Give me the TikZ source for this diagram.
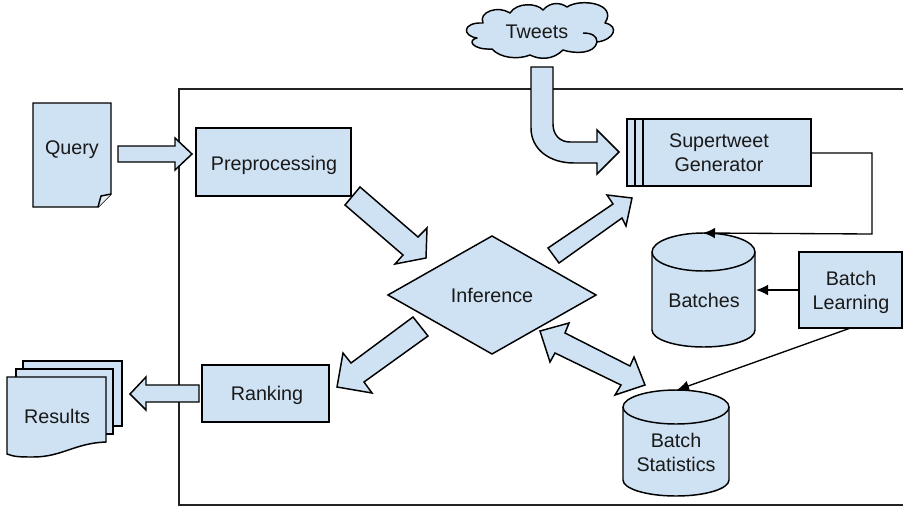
\documentclass[tikz,border=0pt]{standalone}
\usepackage{fontspec}
\setmainfont{Liberation Sans}
\usetikzlibrary{arrows.meta}
\definecolor{fillblue}{HTML}{CFE2F3}
\definecolor{framegrey}{HTML}{222222}
\newcommand{\cylshape}[6]{% xl xr ytop yc ybase ybottom
  \pgfmathsetmacro{\cylmid}{(#1+#2)/2}\pgfmathsetmacro{\cylrx}{(#2-#1)/2}
  \pgfmathsetmacro{\cylra}{0.552*\cylrx}\pgfmathsetmacro{\cylhb}{0.552*(#6-#5)}\pgfmathsetmacro{\cylht}{0.552*(#4-#3)}
  \draw[shapeline] (#1,#4) -- (#1,#5) .. controls (#1,#5+\cylhb) and (\cylmid-\cylra,#6) .. (\cylmid,#6)
     .. controls (\cylmid+\cylra,#6) and (#2,#5+\cylhb) .. (#2,#5) -- (#2,#4)
     .. controls (#2,#4-\cylht) and (\cylmid+\cylra,#3) .. (\cylmid,#3)
     .. controls (\cylmid-\cylra,#3) and (#1,#4-\cylht) .. (#1,#4) -- cycle;
  \draw[lineonly] (#1,#4) .. controls (#1,#4+\cylht) and (\cylmid-\cylra,#4+#4-#3) .. (\cylmid,#4+#4-#3)
     .. controls (\cylmid+\cylra,#4+#4-#3) and (#2,#4+\cylht) .. (#2,#4);
}
\tikzset{
  lineonly/.style={draw=black,line width=1.1pt,line join=miter},
  shapeline/.style={lineonly,fill=fillblue},
  label/.style={font=\fontsize{14.8}{18}\selectfont,align=center,inner sep=0pt,text=black!90},
  box/.style={shapeline,label,outer sep=0pt},
  ghost/.style={inner sep=0pt,outer sep=0pt},
  connector/.style={draw=black,line width=1pt,-{Latex[length=9pt,width=8pt]}},
}
\begin{document}
\begin{tikzpicture}[x=0.75pt,y=-0.75pt]
\useasboundingbox (0,0) rectangle (903,508);
% frame
\draw[draw=framegrey,line width=1.2pt] (903,89) -- (179,89) -- (179,505) -- (903,505);

% Query document
\draw[shapeline] (33,103) -- (111,103) -- (111,194) -- (98,207) -- (33,207) -- cycle;
\draw[lineonly,fill=fillblue!55!white] (98,207) -- (101,196) -- (111,194);
\node[label] (query) at (72,150) {Query};

% Query -> Preprocessing
\draw[shapeline] (118,146) -- (175,146) -- (175,138) -- (192,154) -- (175,170) -- (175,162) -- (118,162) -- cycle;

% Preprocessing
\node[box,minimum width=155*0.75pt,minimum height=68*0.75pt] (prep) at (273.5,162) {};
\node[label] (preptext) at (274,165) {Preprocessing};

% Preprocessing -> Inference
\draw[shapeline] (360,187) -- (418,237) -- (427,228) -- (426,258) -- (395,264) -- (403,255) -- (345,205) -- cycle;

% Inference
\node[ghost] (inf) at (492,295) {};
\draw[shapeline] (388,295) -- (492,236) -- (596,295) -- (492,354) -- cycle;
\node[label] (inftext) at (492,295) {Inference};

% Inference -> Supertweet
\draw[shapeline] (548,248) -- (613,204) -- (607,195) -- (632,198) -- (626,226) -- (622,218) -- (559,263) -- cycle;

% Inference -> Ranking
\draw[shapeline] (413,317) -- (351,363) -- (343,353) -- (337,387) -- (372,393) -- (364,382) -- (428,336) -- cycle;

% Inference <-> Batch Statistics
\draw[shapeline] (540,331) -- (569,323) -- (565,333) -- (630,366) -- (634,357) -- (645,385) -- (615,395) -- (621,385) -- (555,353) -- (550,362) -- cycle;

% Tweets cloud
\draw[shapeline,line join=round] (477,38)
  .. controls (462,36) and (462,22) .. (483,23)
  .. controls (478,12) and (498,5) .. (510,13)
  .. controls (517,2) and (537,3) .. (543,10)
  .. controls (550,2) and (560,2) .. (567,7)
  .. controls (580,-2) and (618,3) .. (605,23)
  .. controls (620,26) and (614,40) .. (597,42)
  .. controls (595,54) and (575,54) .. (563,50)
  .. controls (553,60) and (540,60) .. (530,55)
  .. controls (518,60) and (500,58) .. (492,49)
  .. controls (472,50) and (467,40) .. (477,38) -- cycle;
\draw[lineonly] (583,33) .. controls (592,33) and (597,36) .. (597,42);
\node[label] (tweets) at (537,32) {Tweets};

% Tweets -> Supertweet
\draw[shapeline] (531,67) -- (553,67) -- (553,124) .. controls (553,135) and (560,142) .. (570,142) -- (597,142) -- (597,130) -- (619,152) -- (597,174) -- (597,163) -- (574,163) .. controls (549,163) and (531,149) .. (531,128) -- cycle;

% Supertweet Generator
\node[box,minimum width=184*0.75pt,minimum height=67*0.75pt] (super) at (719,152.5) {};
\draw[lineonly] (635,119) -- (635,186) (643,119) -- (643,186);
\node[label] (supertext) at (719,153) {Supertweet\\Generator};

% Batches
\cylshape{652}{755}{233}{252}{330}{347}
\node[ghost] (batches) at (703.5,290) {};
\node[label] (batchestext) at (704,300) {Batches};
\coordinate (batchestop) at (703,233);
\coordinate (batchesright) at (756,290);

% Batch Learning
\node[box,minimum width=103*0.75pt,minimum height=76*0.75pt] (learn) at (850.5,290) {};
\node[label] (learntext) at (851,292) {Batch\\Learning};

% Batch Statistics
\cylshape{623}{729}{390}{407}{480}{496}
\node[ghost] (stats) at (676,440) {};
\node[label] (statstext) at (676,452) {Batch\\Statistics};
\coordinate (statstop) at (677,390);

% Results
\draw[shapeline] (23,361) -- (122,361) -- (122,426) -- (23,426) -- cycle;
\draw[shapeline] (16,369) -- (113,369) -- (113,434) -- (16,434) -- cycle;
\draw[shapeline] (7,377) -- (106,377) -- (106,442) .. controls (75,443) and (62,457) .. (33,457) .. controls (22,457) and (14,457) .. (7,454) -- cycle;
\node[label] (results) at (57,416) {Results};

% Ranking
\node[box,minimum width=127*0.75pt,minimum height=57*0.75pt] (rank) at (265.5,393.5) {};
\node[label] (ranktext) at (267,395) {Ranking};

% Ranking -> Results
\draw[shapeline] (199,385) -- (146,385) -- (146,377) -- (130,394) -- (146,410) -- (146,402) -- (199,402) -- cycle;

% thin connectors
\coordinate (elbowa) at (872,153);
\coordinate (elbowb) at (872,234);
\draw[connector] (super.east |- elbowa) -- (elbowa) -- (elbowb) -- (batchestop);
\draw[connector] (learn.west |- batchesright) -- (batchesright);
\draw[connector] (learn.south) -- (statstop);
\end{tikzpicture}
\end{document}
